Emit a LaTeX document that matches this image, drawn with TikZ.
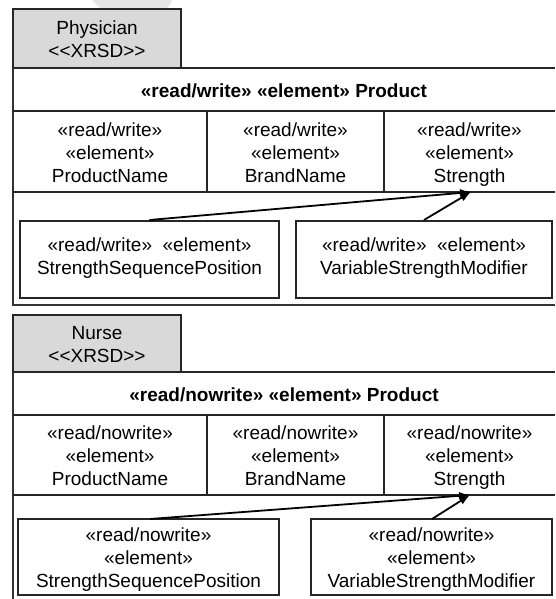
\documentclass[tikz,border=0pt]{standalone}
\usepackage{fontspec}
\setmainfont{Liberation Sans}
\usetikzlibrary{arrows.meta}

\begin{document}
\begin{tikzpicture}[x=1pt,y=-1pt,
  txt/.style={font=\fontsize{19}{23}\selectfont, align=center,
    execute at begin node=\strut, execute at end node=\strut,
    inner sep=0pt, outer sep=0pt},
  headtxt/.style={txt, font=\fontsize{19}{23}\selectfont\bfseries},
  grid/.style={draw=black!85, line width=1.2pt},
  tabbox/.style={grid, fill=black!15},
  elembox/.style={txt, grid},
  frame/.style={draw=black!80, line width=1.4pt},
  link/.style={draw=black, line width=1.8pt, -{Latex[length=11pt,width=8pt]}}
]
\useasboundingbox (0,0) rectangle (555,599);
\fill[white] (0,0) rectangle (555,599);

% faint blot at the top edge
\fill[black!10] (92,0) .. controls (104,14) and (124,21) .. (144,20)
  .. controls (160,19) and (168,10) .. (172,0) -- cycle;

% ---------- Physician view (open towards the right edge) ----------
\draw[frame] (555,305) -- (13,305) -- (13,68);
\draw[grid] (13,68) -- (555,68) (13,111) -- (555,111) (13,192) -- (555,192)
  (207,111) -- (207,192) (384,111) -- (384,192);
\draw[tabbox] (13,9) rectangle (181,68);
\node[txt] (tabA) at (97,42.5) {Physician\\<{}<XRSD>{}>};
\node[headtxt] (headA) at (284,92.5) {«read/write» «element» Product};
\node[txt] (nameA) at (110,156) {«read/write»\\«element»\\ProductName};
\node[txt] (brandA) at (295.5,156) {«read/write»\\«element»\\BrandName};
\node[txt] (strA) at (469.5,156) {«read/write»\\«element»\\Strength};
\coordinate (tipA) at (471,192);
\node[elembox, minimum width=259pt, minimum height=77pt] (seqA) at (149.5,259.5)
  {«read/write»\ \ «element»\\StrengthSequencePosition};
\node[elembox, minimum width=256pt, minimum height=77pt] (modA) at (424,259.5)
  {«read/write»\ \ «element»\\VariableStrengthModifier};
\draw[link] ([yshift=1pt]seqA.north) -- (tipA);
\draw[link] ([yshift=1pt]modA.north) -- (tipA);

% ---------- Nurse view ----------
\draw[frame] (13,372) -- (13,599);
\draw[grid] (13,372) -- (555,372) (13,415) -- (555,415) (13,495) -- (555,495)
  (207,415) -- (207,495) (384,415) -- (384,495);
\draw[tabbox] (13,315) rectangle (181,372);
\node[txt] (tabB) at (97,347.5) {Nurse\\<{}<XRSD>{}>};
\node[headtxt] (headB) at (284,396.5) {«read/nowrite» «element» Product};
\node[txt] (nameB) at (110,459.5) {«read/nowrite»\\«element»\\ProductName};
\node[txt] (brandB) at (295.5,459.5) {«read/nowrite»\\«element»\\BrandName};
\node[txt] (strB) at (469.5,459.5) {«read/nowrite»\\«element»\\Strength};
\coordinate (tipB) at (470,495);
\draw[grid] (18,519) rectangle (279,595) (311,519) rectangle (552,595);
\node[txt] (seqB) at (148.5,561.5) {«read/nowrite»\\«element»\\StrengthSequencePosition};
\node[txt] (modB) at (431.5,561.5) {«read/nowrite»\\«element»\\VariableStrengthModifier};
\coordinate (seqBtop) at (150,519);
\coordinate (modBtop) at (432,519);
\draw[link] (seqBtop) -- (tipB);
\draw[link] (modBtop) -- (tipB);
\end{tikzpicture}
\end{document}
